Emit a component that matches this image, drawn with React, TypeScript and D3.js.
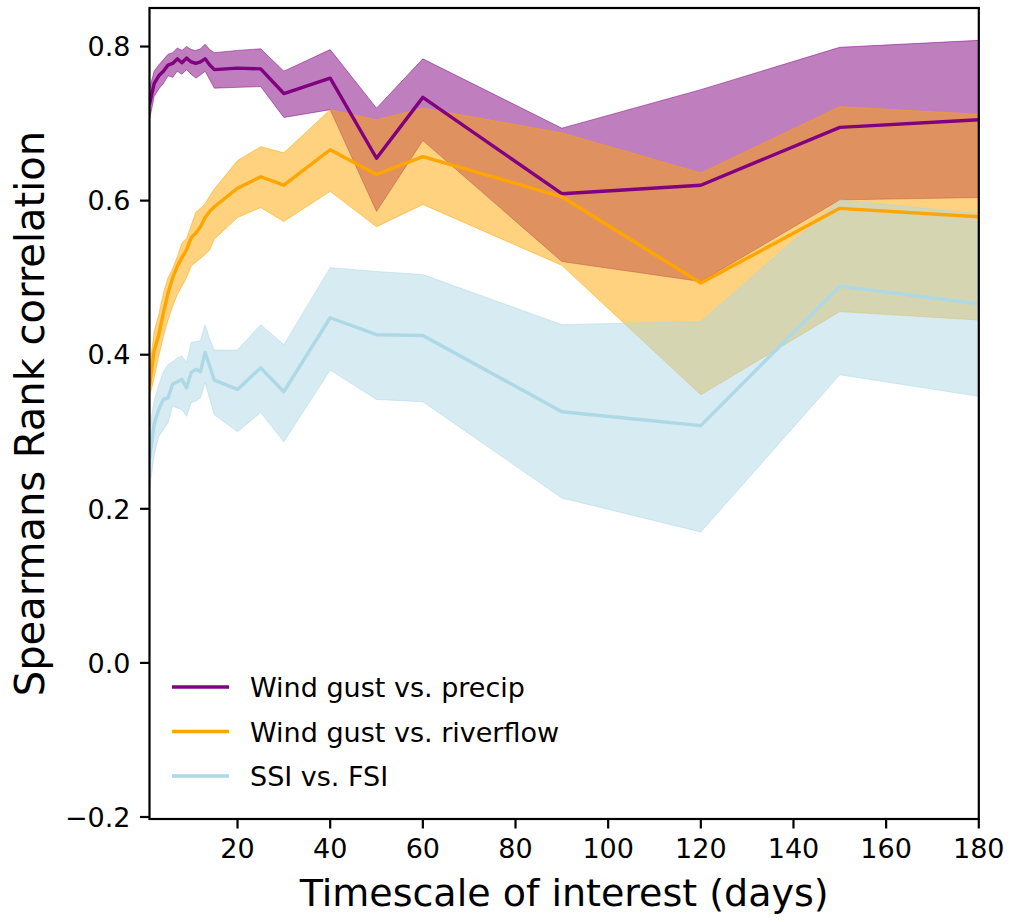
import * as d3 from "d3";

// timescale (days)
const days = [1, 2, 3, 4, 5, 6, 7, 8, 9, 10, 11, 12, 13, 14, 15, 20, 25, 30, 40, 50, 60, 90, 120, 150, 180];

// wind gust vs. precip
const precipMean = [0.725, 0.752, 0.762, 0.768, 0.776, 0.778, 0.784, 0.779, 0.785, 0.78, 0.778, 0.78, 0.784, 0.776, 0.77, 0.772, 0.771, 0.739, 0.759, 0.655, 0.734, 0.609, 0.62, 0.695, 0.705];
const precipHigh = [0.745, 0.768, 0.776, 0.783, 0.79, 0.792, 0.798, 0.795, 0.8, 0.796, 0.795, 0.797, 0.803, 0.796, 0.792, 0.795, 0.797, 0.768, 0.796, 0.72, 0.784, 0.694, 0.744, 0.799, 0.808];
const precipLow = [0.705, 0.735, 0.745, 0.752, 0.762, 0.76, 0.768, 0.764, 0.77, 0.764, 0.759, 0.763, 0.768, 0.757, 0.746, 0.747, 0.748, 0.708, 0.718, 0.586, 0.678, 0.521, 0.495, 0.601, 0.604];

// wind gust vs. riverflow
const riverMean = [0.36, 0.405, 0.426, 0.454, 0.48, 0.5, 0.515, 0.526, 0.536, 0.552, 0.558, 0.566, 0.578, 0.586, 0.592, 0.616, 0.631, 0.62, 0.666, 0.634, 0.657, 0.605, 0.493, 0.59, 0.579];
const riverHigh = [0.38, 0.43, 0.452, 0.48, 0.5, 0.512, 0.527, 0.545, 0.551, 0.568, 0.585, 0.59, 0.596, 0.606, 0.615, 0.652, 0.67, 0.662, 0.718, 0.705, 0.72, 0.688, 0.636, 0.722, 0.712];
const riverLow = [0.345, 0.37, 0.398, 0.424, 0.445, 0.463, 0.478, 0.489, 0.5, 0.515, 0.52, 0.525, 0.53, 0.536, 0.55, 0.578, 0.591, 0.573, 0.612, 0.566, 0.595, 0.516, 0.348, 0.456, 0.445];

// SSI vs. FSI
const ssiMean = [0.265, 0.31, 0.329, 0.342, 0.344, 0.362, 0.365, 0.368, 0.357, 0.377, 0.381, 0.378, 0.403, 0.385, 0.367, 0.355, 0.383, 0.352, 0.448, 0.426, 0.425, 0.326, 0.308, 0.489, 0.466];
const ssiHigh = [0.305, 0.34, 0.36, 0.378, 0.387, 0.391, 0.396, 0.398, 0.39, 0.416, 0.417, 0.418, 0.439, 0.42, 0.406, 0.406, 0.439, 0.413, 0.513, 0.508, 0.504, 0.439, 0.443, 0.601, 0.583];
const ssiLow = [0.225, 0.27, 0.294, 0.303, 0.312, 0.333, 0.331, 0.329, 0.32, 0.338, 0.34, 0.344, 0.364, 0.343, 0.322, 0.3, 0.325, 0.287, 0.38, 0.342, 0.339, 0.214, 0.17, 0.374, 0.346];

const xTicks = [20, 40, 60, 80, 100, 120, 140, 160, 180];
const yTicks = [-0.2, 0, 0.2, 0.4, 0.6, 0.8];

const series = [
  { name: "Wind gust vs. precip", color: "purple", mean: precipMean, high: precipHigh, low: precipLow },
  { name: "Wind gust vs. riverflow", color: "orange", mean: riverMean, high: riverHigh, low: riverLow },
  { name: "SSI vs. FSI", color: "lightblue", mean: ssiMean, high: ssiHigh, low: ssiLow },
];

const W = 1013;
const H = 922;
const left = 149.5;
const right = 978.8;
const top = 8;
const bottom = 819;
const font = "DejaVu Sans, sans-serif";

export default function App() {
  const x = d3.scaleLinear().domain([1, 180]).range([left, right]);
  const y = d3.scaleLinear().domain([-0.2026, 0.85]).range([bottom, top]);

  const fmt = (v: number) => (v < 0 ? "\u2212" : "") + Math.abs(v).toFixed(1);

  return (
    <svg width={W} height={H} style={{ position: "absolute", left: 0, top: 0, background: "#fff" }}>
      <defs>
        <clipPath id="plot">
          <rect x={left} y={top} width={right - left} height={bottom - top} />
        </clipPath>
      </defs>
      <rect width={W} height={H} fill="#fff" />
      <g clipPath="url(#plot)">
        {/* bands first, in plotting order */}
        {series.map((s) => {
          const area = d3
            .area<number>()
            .x((d) => x(d))
            .y0((_, i) => y(s.low[i]))
            .y1((_, i) => y(s.high[i]));
          return (
            <path
              key={s.name + "-band"}
              d={area(days) ?? ""}
              fill={s.color}
              fillOpacity={0.5}
              stroke={s.color}
              strokeOpacity={0.5}
              strokeWidth={1}
            />
          );
        })}
        {series.map((s) => {
          const line = d3
            .line<number>()
            .x((d) => x(d))
            .y((_, i) => y(s.mean[i]));
          return (
            <path
              key={s.name + "-line"}
              d={line(days) ?? ""}
              fill="none"
              stroke={s.color}
              strokeWidth={3.4}
              strokeLinejoin="round"
            />
          );
        })}
      </g>

      {/* axes frame */}
      <rect x={left} y={top} width={right - left} height={bottom - top} fill="none" stroke="#000" strokeWidth={2.2} />

      {/* x ticks */}
      {xTicks.map((t) => (
        <g key={"x" + t}>
          <line x1={x(t)} x2={x(t)} y1={bottom} y2={bottom + 9.5} stroke="#000" strokeWidth={2.2} />
          <text x={x(t)} y={bottom + 39} textAnchor="middle" fontFamily={font} fontSize={27} fill="#000">
            {t}
          </text>
        </g>
      ))}

      {/* y ticks */}
      {yTicks.map((t) => (
        <g key={"y" + t}>
          <line x1={left - 9.5} x2={left} y1={y(t)} y2={y(t)} stroke="#000" strokeWidth={2.2} />
          <text x={left - 19} y={y(t)} dy="0.36em" textAnchor="end" fontFamily={font} fontSize={27} fill="#000">
            {fmt(t)}
          </text>
        </g>
      ))}

      <text x={(left + right) / 2} y={906} textAnchor="middle" fontFamily={font} fontSize={38} fill="#000">
        Timescale of interest (days)
      </text>
      <text
        transform={`translate(44, ${(top + bottom) / 2}) rotate(-90)`}
        textAnchor="middle"
        fontFamily={font}
        fontSize={40}
        fill="#000"
      >
        Spearmans Rank correlation
      </text>

      {/* legend */}
      {series.map((s, i) => {
        const ly = 687 + i * 44.5;
        return (
          <g key={s.name + "-legend"}>
            <line x1={172} x2={229} y1={ly} y2={ly} stroke={s.color} strokeWidth={3.4} />
            <text x={250} y={ly + 10} fontFamily={font} fontSize={27} fill="#000">
              {s.name}
            </text>
          </g>
        );
      })}
    </svg>
  );
}
